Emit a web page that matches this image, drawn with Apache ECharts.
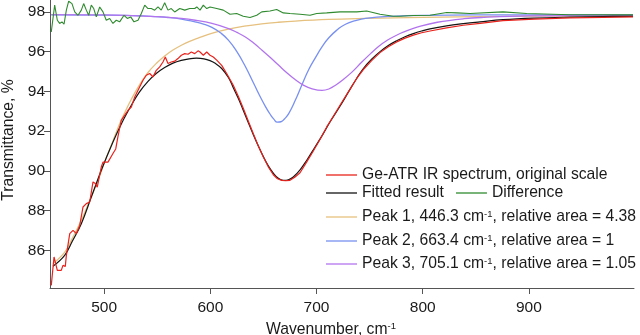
<!DOCTYPE html>
<html>
<head>
<meta charset="utf-8">
<script src="https://cdn.jsdelivr.net/npm/echarts@6/dist/echarts.min.js"></script>
<style>html,body{margin:0;padding:0;background:#fff}#c{width:640px;height:335px}</style>
</head>
<body>
<div id="c"></div>
<script>
// ---- data (wavenumber, transmittance %) ----
const xTicks = [500, 600, 700, 800, 900];
const yTicks = [86, 88, 90, 92, 94, 96, 98];

const spectrum = [[450.2,84.23],[452.8,85.66],[455.9,84.99],[459.6,84.99],[461.2,85.24],[463.4,85.19],[464.4,85.74],[467.6,86.84],[470.7,87.0],[473.8,86.84],[477.0,87.25],[480.1,88.18],[483.2,88.35],[486.4,88.43],[489.5,89.44],[491.7,89.36],[493.5,89.18],[497.3,90.19],[498.9,90.44],[503.6,90.44],[508.3,90.87],[510.9,91.1],[512.9,91.7],[516.1,92.54],[519.4,92.8],[522.5,93.05],[525.6,93.21],[528.8,93.72],[531.9,94.06],[536.6,94.56],[539.7,94.81],[542.9,94.9],[546.0,94.73],[549.1,95.06],[552.3,95.23],[555.4,95.48],[557.6,95.73],[560.1,95.4],[563.2,95.48],[566.4,95.52],[569.5,95.65],[572.7,95.82],[575.9,95.9],[579.0,95.87],[582.1,95.98],[585.3,95.9],[588.4,96.04],[590.3,95.98],[593.4,95.82],[596.6,95.98],[599.7,95.82],[602.8,95.73],[606.0,95.57],[610.7,95.31],[615.4,94.9],[621.6,94.31],[626.3,93.75],[631.0,93.15],[635.8,92.5],[640.5,91.87],[645.2,91.25],[649.9,90.7],[654.6,90.2],[659.3,89.8],[663.2,89.6],[667.2,89.52],[671.0,89.5],[675.0,89.52],[679.5,89.68],[684.5,89.9],[690.8,90.45],[697.0,91.0],[703.5,91.6],[709.6,92.21],[715.9,92.75],[722.1,93.3],[731.5,94.1],[737.8,94.65],[744.1,95.1],[751.9,95.55],[759.8,95.95],[767.6,96.25],[775.5,96.49],[783.4,96.68],[791.2,96.83],[799.0,96.95],[806.9,97.04],[822.5,97.2],[838.2,97.33],[854.0,97.42],[875.6,97.56],[905.0,97.64],[938.7,97.70],[970.0,97.73],[998.1,97.75]];

const fitted = [[451.8,85.19],[462.8,85.74],[470.0,86.45],[478.5,87.34],[487.9,88.68],[497.3,90.03],[508.3,91.45],[516.5,92.4],[525.6,93.3],[533.0,93.95],[541.3,94.5],[549.0,94.9],[557.0,95.2],[564.8,95.42],[572.7,95.56],[580.0,95.64],[587.0,95.67],[594.0,95.64],[599.7,95.55],[605.0,95.4],[610.7,95.15],[617.0,94.7],[621.5,94.2],[626.3,93.65],[631.0,93.05],[635.8,92.42],[640.5,91.82],[645.2,91.25],[649.9,90.72],[654.6,90.25],[659.3,89.88],[664.0,89.62],[668.8,89.52],[673.5,89.55],[678.1,89.69],[684.5,90.05],[690.8,90.53],[698.6,91.2],[706.4,91.87],[712.7,92.46],[722.1,93.25],[731.5,94.1],[737.8,94.65],[744.1,95.15],[751.9,95.62],[759.8,96.0],[767.6,96.31],[775.5,96.55],[783.4,96.75],[791.2,96.91],[799.0,97.04],[806.9,97.15],[822.5,97.3],[838.2,97.41],[854.0,97.5],[875.6,97.61],[905.0,97.69],[938.7,97.74],[970.0,97.77],[998.1,97.78]];

const difference = [[450.2,96.99],[453.4,98.34],[455.9,97.58],[458.1,97.42],[460.3,97.5],[462.2,97.38],[464.4,98.09],[466.6,98.54],[469.7,98.42],[472.3,98.0],[475.4,97.83],[478.5,98.09],[480.7,98.42],[483.2,98.09],[485.4,97.83],[487.9,98.34],[490.2,98.17],[492.6,97.75],[495.8,98.25],[498.9,98.0],[502.0,97.58],[505.2,97.67],[508.3,97.42],[511.4,97.58],[514.6,97.5],[518.7,97.83],[521.8,97.67],[525.0,97.75],[528.1,97.5],[531.9,97.58],[535.0,97.92],[538.2,98.34],[541.3,98.17],[544.4,98.17],[547.6,98.09],[550.7,98.25],[553.8,98.09],[557.0,98.46],[560.1,98.09],[563.2,98.17],[566.4,98.0],[571.2,98.17],[575.9,98.09],[580.6,98.17],[585.3,98.17],[587.2,98.25],[590.3,98.09],[593.4,98.34],[596.6,98.17],[599.7,98.25],[606.0,98.17],[612.2,98.09],[618.5,97.88],[624.8,97.92],[631.0,97.78],[637.4,97.72],[643.7,97.83],[648.4,98.0],[656.2,98.05],[662.5,98.12],[668.7,97.95],[675.0,97.92],[684.5,97.88],[693.9,97.83],[700.2,97.92],[709.6,97.95],[722.1,98.0],[728.4,98.0],[737.9,98.0],[747.3,98.05],[759.8,97.88],[772.3,97.78],[778.6,97.78],[791.2,97.82],[806.9,97.83],[822.6,97.97],[832.0,97.95],[844.6,97.92],[875.6,98.0],[897.9,97.92],[938.7,97.86],[998.1,97.85]];

const peak1 = [[451.8,85.33],[462.9,85.91],[470.0,86.6],[478.5,87.51],[486.0,88.45],[494.3,89.52],[500.5,90.45],[506.8,91.3],[514.0,92.3],[520.0,93.0],[525.6,93.6],[533.0,94.3],[541.3,94.95],[549.0,95.4],[557.0,95.78],[564.8,96.08],[572.7,96.32],[580.5,96.52],[588.4,96.68],[602.0,96.93],[617.0,97.13],[632.0,97.28],[648.4,97.4],[664.0,97.48],[679.9,97.54],[711.4,97.62],[746.0,97.67],[800,97.73],[900,97.79],[998.1,97.82]];

const peak2 = [[450.2,97.85],[500,97.84],[540,97.79],[560,97.72],[572.7,97.64],[585.5,97.5],[593.5,97.39],[601.5,97.22],[609.5,96.95],[617.2,96.57],[625.0,96.0],[633.0,95.25],[641.0,94.38],[648.7,93.55],[652.5,93.18],[656.2,92.86],[659.8,92.6],[663.1,92.45],[666.5,92.47],[670.0,92.62],[673.8,92.88],[680.0,93.55],[686.4,94.35],[692.7,95.1],[699.0,95.7],[705.3,96.25],[711.6,96.7],[719.5,97.1],[727.3,97.38],[736.8,97.56],[746.2,97.67],[770,97.78],[800,97.83],[900,97.85],[998.1,97.85]];

const peak3 = [[450.2,97.86],[500,97.85],[550,97.76],[572.7,97.67],[585.8,97.58],[601.5,97.42],[617.2,97.16],[625.0,96.97],[633.0,96.74],[640.8,96.43],[648.7,96.07],[656.5,95.7],[664.4,95.31],[672.3,94.92],[680.1,94.58],[688.0,94.3],[695.9,94.13],[705.3,94.05],[711.6,94.12],[717.9,94.31],[725.7,94.62],[733.6,94.98],[742.2,95.45],[750.9,95.9],[758.7,96.27],[766.6,96.57],[774.4,96.8],[782.3,96.99],[798.0,97.28],[813.8,97.48],[839,97.66],[855,97.72],[900,97.8],[998.1,97.83]];

const names = ['Ge-ATR IR spectrum, original scale', 'Fitted result', 'Difference',
  'Peak 1, 446.3 cm-1, relative area = 4.38',
  'Peak 2, 663.4 cm-1, relative area = 1',
  'Peak 3, 705.1 cm-1, relative area = 1.05'];
const colors = ['#e8221c', '#141414', '#2f8a2f', '#e6c07e', '#7890f0', '#b274ee'];
// ---------------------------------------------------------------

const FONT = '"Liberation Sans", Arial, sans-serif';
const chart = echarts.init(document.getElementById('c'), null, {renderer: 'canvas'});

function mkSeries(name, data, color, width, z, smooth) {
  return {name, type: 'line', data, showSymbol: false, symbol: 'none',
    smooth, z, clip: true,
    lineStyle: {color, width}, itemStyle: {color}, emphasis: {disabled: true}};
}
const legendText = {fontFamily: FONT, fontSize: 15.7, color: '#1a1a1a',
  rich: {s: {fontFamily: FONT, fontSize: 9.5, verticalAlign: 'top', lineHeight: 8, color: '#1a1a1a'}}};
function mkLegend(data, top, left, gap) {
  return {data, top, left, orient: 'horizontal', icon: 'rect', itemWidth: 31, itemHeight: 1.3,
    itemGap: gap || 12, padding: 0, selectedMode: false, textStyle: legendText,
    formatter: n => n.replace('cm-1', 'cm{s|-1}')};
}

chart.setOption({
  animation: false,
  backgroundColor: '#fff',
  grid: {left: 50, right: 6, top: 0, bottom: 47, containLabel: false, outerBoundsMode: 'none'},
  xAxis: {type: 'value', min: 449, max: 999,
    name: '{a|Wavenumber, cm}{s|-1}', nameLocation: 'middle', nameGap: 23,
    nameTextStyle: {padding: [0, 22, 0, 0], rich: {
      a: {fontFamily: FONT, fontSize: 15.7, color: '#1a1a1a', lineHeight: 18},
      s: {fontFamily: FONT, fontSize: 9.5, color: '#1a1a1a', verticalAlign: 'top', lineHeight: 12}}},
    axisLine: {show: true, lineStyle: {color: '#555', width: 1}},
    axisTick: {show: true, inside: false, length: 6, customValues: xTicks, lineStyle: {color: '#555'}},
    axisLabel: {customValues: xTicks, fontFamily: FONT, fontSize: 15.5, color: '#1a1a1a', margin: 12},
    splitLine: {show: false}},
  yAxis: {type: 'value', min: 84.1, max: 98.6,
    name: 'Transmittance, %', nameLocation: 'middle', nameGap: 25, nameRotate: 90,
    nameTextStyle: {fontFamily: FONT, fontSize: 15.7, color: '#1a1a1a', padding: [0, 0, 0, 8]},
    axisLine: {show: true, lineStyle: {color: '#555', width: 1}},
    axisTick: {show: true, inside: false, length: 6, customValues: yTicks, lineStyle: {color: '#555'}},
    axisLabel: {customValues: yTicks, fontFamily: FONT, fontSize: 15.5, color: '#1a1a1a', margin: 5},
    splitLine: {show: false}},
  legend: [
    mkLegend([names[0]], 167, 326),
    mkLegend([names[1], names[2]], 185, 326, 12),
    mkLegend([names[3]], 209, 326),
    mkLegend([names[4]], 233, 326),
    mkLegend([names[5]], 256, 326)
  ],
  series: [
    mkSeries(names[3], peak1, colors[3], 1.3, 1, 0.4),
    mkSeries(names[4], peak2, colors[4], 1.3, 2, 0.5),
    mkSeries(names[5], peak3, colors[5], 1.3, 3, 0.4),
    mkSeries(names[2], difference, colors[2], 1.1, 4, false),
    mkSeries(names[1], fitted, colors[1], 1.2, 5, 0.4),
    mkSeries(names[0], spectrum, colors[0], 1.2, 6, false)
  ]
});
</script>
</body>
</html>
